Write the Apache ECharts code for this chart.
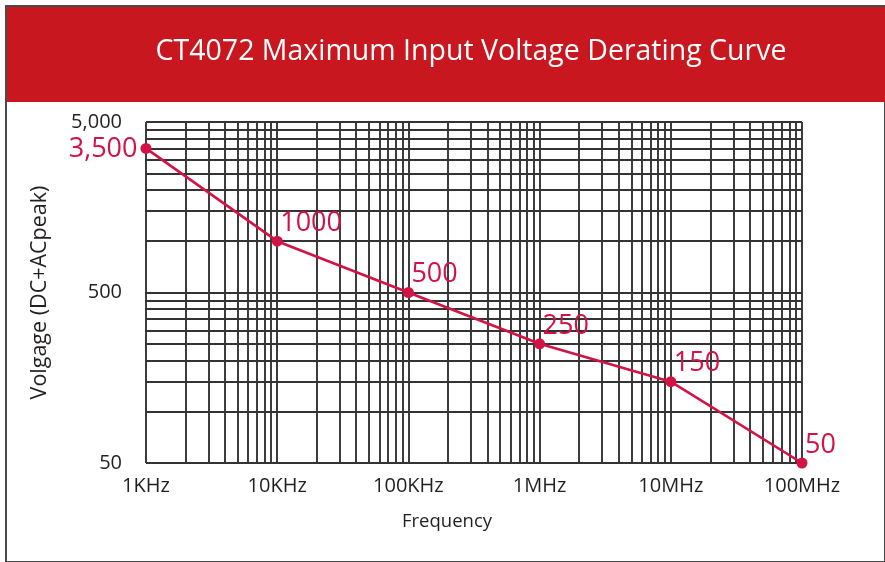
<!DOCTYPE html>
<html>
<head>
<meta charset="utf-8">
<script src="https://cdn.jsdelivr.net/npm/echarts@6/dist/echarts.min.js"></script>
<style>
  html, body { margin: 0; height: 100%; background: #fff; }
  #chart { width: 885px; height: 562px; }
</style>
</head>
<body>
<div id="chart"></div>
<script>
// data
var freqs = [1e3, 1e4, 1e5, 1e6, 1e7, 1e8];
var freqLabels = ['1KHz', '10KHz', '100KHz', '1MHz', '10MHz', '100MHz'];
var voltages = [3500, 1000, 500, 250, 150, 50];
var voltLabels = ['3,500', '1000', '500', '250', '150', '50'];
var yTicks = [50, 500, 5000];
var yTickLabels = ['50', '500', '5,000'];
// log grid: multiples inside each decade
var xDecades = [1e3, 1e4, 1e5, 1e6, 1e7];
var yDecades = [50, 500];
var multipliers = [1, 2, 3, 4, 5, 6, 7, 8, 9];

var red = '#d31245';
var font = 'Open Sans';

var gridX = [];
xDecades.forEach(function (d) {
  multipliers.forEach(function (m) { gridX.push({ xAxis: d * m }); });
});
gridX.push({ xAxis: 1e8 });
var gridY = [];
yDecades.forEach(function (d) {
  multipliers.forEach(function (m) { gridY.push({ yAxis: d * m }); });
});
gridY.push({ yAxis: 5000 });

var chart = echarts.init(document.getElementById('chart'));

var points = freqs.map(function (f, i) {
  return {
    value: [f, voltages[i]],
    label: i === 0
      ? { position: [-3, 6.5], align: 'right', verticalAlign: 'middle' }
      : { position: [8.5, -12.5], align: 'left', verticalAlign: 'middle' }
  };
});

var option = {
  backgroundColor: '#fff',
  animation: false,
  textStyle: { fontFamily: font },
  graphic: [
    { type: 'rect', shape: { x: 6, y: 6, width: 879, height: 556 }, style: { fill: '#fff', stroke: '#4a4a4a', lineWidth: 2 }, z: -10 },
    { type: 'rect', shape: { x: 7, y: 7, width: 878, height: 95 }, style: { fill: '#c8171f' }, z: -9 }
  ],
  title: {
    text: 'CT4072 Maximum Input Voltage Derating Curve',
    left: 466,
    top: 32,
    textAlign: 'center',
    textStyle: { color: '#fff', fontSize: 28.5, fontWeight: 'normal', fontFamily: font }
  },
  grid: { left: 146, right: 83, top: 122, bottom: 99 },
  xAxis: {
    type: 'log',
    logBase: 10,
    min: 1e3,
    max: 1e8,
    name: 'Frequency',
    nameLocation: 'middle',
    nameGap: 49,
    nameTextStyle: { color: '#231f20', fontSize: 18.5, padding: [0, 54, 0, 0] },
    axisLine: { show: false },
    axisTick: { show: false },
    splitLine: { show: false },
    axisLabel: {
      color: '#231f20',
      fontSize: 20,
      margin: 13,
      customValues: freqs,
      formatter: function (v) {
        var i = freqs.indexOf(v);
        return i >= 0 ? freqLabels[i] : '';
      }
    }
  },
  yAxis: {
    type: 'log',
    logBase: 10,
    min: 50,
    max: 5000,
    name: 'Volgage (DC+ACpeak)',
    nameLocation: 'middle',
    nameGap: 95,
    nameRotate: 90,
    nameTextStyle: { color: '#231f20', fontSize: 21.5 },
    axisLine: { show: false },
    axisTick: { show: false },
    splitLine: { show: false },
    axisLabel: {
      color: '#231f20',
      fontSize: 20,
      margin: 24,
      customValues: yTicks,
      formatter: function (v) {
        var i = yTicks.indexOf(v);
        return i >= 0 ? yTickLabels[i] : '';
      }
    }
  },
  series: [
    {
      type: 'line',
      data: [],
      z: 1,
      silent: true,
      markLine: {
        silent: true,
        symbol: 'none',
        animation: false,
        label: { show: false },
        lineStyle: { color: '#333', width: 1.9, type: 'solid' },
        emphasis: { disabled: true },
        data: gridX.concat(gridY)
      }
    },
    {
      type: 'line',
      z: 5,
      data: points,
      symbol: 'circle',
      symbolSize: 11,
      lineStyle: { color: red, width: 2.6 },
      itemStyle: { color: red },
      label: {
        show: true,
        color: red,
        fontSize: 27,
        formatter: function (p) { return voltLabels[p.dataIndex]; }
      },
      labelLayout: { hideOverlap: false }
    }
  ]
};
chart.setOption(option);
</script>
</body>
</html>
